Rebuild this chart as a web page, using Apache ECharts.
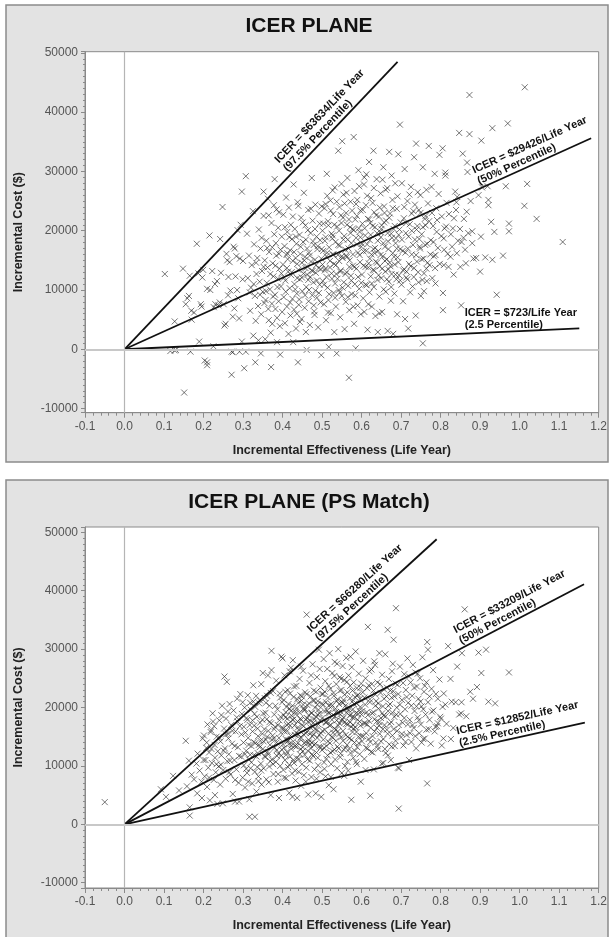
<!DOCTYPE html>
<html>
<head>
<meta charset="utf-8">
<title>ICER plane</title>
<script src="https://cdn.jsdelivr.net/npm/echarts@6/dist/echarts.min.js"></script>
<style>
  html, body { margin: 0; padding: 0; background: #fff; }
  #chart { width: 610px; height: 937px; }
</style>
</head>
<body>
<div id="chart"></div>
<script>
// ---- data ----
var xRange = [-0.1, 1.2];
var yTitle = 'Incremental Cost ($)';
var xTitle = 'Incremental Effectiveness (Life Year)';
var panelTitles = ['ICER PLANE', 'ICER PLANE (PS Match)'];

// bootstrap replicates, all patients  [effectiveness, cost]
var allPoints = [
  [0.102,12700],[0.151,-7300],[0.183,17800],[0.148,13600],[0.165,12400],[0.163,9000],[0.169,6500],[0.127,4700],
  [0.155,7600],[0.193,7600],[0.195,7200],[0.116,-300],[0.127,-200],[0.167,-400],[0.189,1300],[0.13,-100],
  [0.17,5000],[0.159,8600],[0.176,6200],[0.187,12800],[0.197,12100],[0.199,13400],
  [0.203,-1900],[0.209,-2700],[0.209,10200],[0.217,10000],[0.229,11000],[0.23,7600],[0.234,11500],[0.215,19200],
  [0.242,18600],[0.248,24000],[0.222,13200],[0.238,7400],[0.241,7900],[0.253,4000],[0.256,4300],[0.258,16100],
  [0.26,15000],[0.262,9100],[0.266,14700],[0.271,-4300],[0.271,-400],[0.274,5500],[0.276,17300],[0.279,17000],
  [0.281,12300],[0.285,10000],[0.288,8600],[0.29,5200],[0.292,15300],[0.294,21000],[0.297,26600],[0.297,1300],
  [0.299,11800],[0.286,20100],[0.268,9900],[0.251,7600],[0.244,12900],[0.226,7100],[0.263,12200],[0.278,6900],
  [0.283,15700],[0.274,-500],[0.209,-2200],[0.225,500],[0.291,-400],[0.3,14900],
  [0.307,29200],[0.303,-3200],[0.307,-400],[0.31,19500],[0.312,12000],[0.315,15800],[0.318,6500],[0.32,10400],
  [0.322,14200],[0.325,23300],[0.326,2300],[0.328,17700],[0.33,9000],[0.331,-2200],[0.332,4800],[0.334,12700],
  [0.336,15400],[0.338,7300],[0.34,20200],[0.342,11400],[0.344,17000],[0.346,5900],[0.348,13200],[0.35,9700],
  [0.352,26600],[0.352,22500],[0.355,15000],[0.356,1700],[0.357,8300],[0.359,18300],[0.36,11200],[0.362,13800],
  [0.364,6800],[0.366,16400],[0.368,10100],[0.37,2800],[0.371,-3000],[0.372,21300],[0.373,7700],[0.375,14500],
  [0.377,12300],[0.378,24300],[0.38,28700],[0.381,9200],[0.383,17900],[0.384,15800],[0.386,5300],[0.388,11900],
  [0.389,20500],[0.39,8100],[0.392,13600],[0.393,3900],[0.394,-900],[0.395,16800],[0.396,10600],[0.398,19000],
  [0.399,6300],[0.374,4300],[0.339,1500],[0.363,25400],[0.317,9600],[0.345,-700],[0.386,1200],[0.354,7800],
  [0.352,13900],[0.358,9800],[0.361,17100],[0.365,22600],[0.369,12700],[0.376,8900],[0.379,19400],[0.382,14100],
  [0.385,23600],[0.387,10500],[0.391,16100],[0.397,12800],[0.343,9200],[0.347,18800],[0.333,14600],[0.327,11000],
  [0.365,4900],[0.382,6800],[0.391,23100],[0.374,17200],
  [0.401,14300],[0.402,22700],[0.403,8800],[0.405,17400],[0.406,4400],[0.407,11600],[0.409,25600],[0.41,15900],
  [0.411,7200],[0.412,19800],[0.414,13100],[0.415,2600],[0.416,23900],[0.418,10300],[0.419,16700],[0.42,5700],
  [0.421,21000],[0.422,12500],[0.424,18600],[0.425,8500],[0.426,14900],[0.428,27800],[0.429,6700],[0.43,11000],
  [0.431,20300],[0.433,15400],[0.434,3500],[0.435,17800],[0.436,9400],[0.438,24800],[0.439,-2200],[0.44,13400],
  [0.441,7500],[0.443,19300],[0.444,11800],[0.445,16100],[0.447,22200],[0.448,5100],[0.449,14600],[0.45,9800],
  [0.452,18100],[0.453,12800],[0.454,26400],[0.456,7000],[0.457,15600],[0.458,20900],[0.46,10500],[0.461,-100],
  [0.462,17000],[0.463,13900],[0.465,23500],[0.466,8100],[0.467,16300],[0.469,4100],[0.47,12200],[0.471,19600],
  [0.472,14800],[0.474,28900],[0.475,9100],[0.476,21700],[0.478,11300],[0.479,17600],[0.48,6400],[0.482,15100],
  [0.483,24400],[0.484,12900],[0.486,19000],[0.487,8700],[0.488,16900],[0.49,3700],[0.491,13700],[0.492,22900],
  [0.494,10900],[0.495,18400],[0.496,7900],[0.498,-1000],[0.498,15300],[0.499,24100],[0.444,4600],[0.427,1200],
  [0.459,2900],[0.481,5800],[0.465,11700],[0.412,16200],[0.437,12000],[0.476,13200],
  [0.404,12100],[0.406,20600],[0.408,9700],[0.413,15200],[0.417,18900],[0.419,7900],[0.423,13000],[0.426,22400],
  [0.429,16400],[0.432,10100],[0.434,19000],[0.437,14400],[0.44,24200],[0.442,8400],[0.446,17300],[0.449,12100],
  [0.451,21400],[0.455,15000],[0.457,9100],[0.459,18500],[0.462,12600],[0.464,20100],[0.467,10000],[0.469,15800],
  [0.472,23700],[0.474,13300],[0.477,18200],[0.479,7400],[0.482,20300],[0.485,14200],[0.487,11600],[0.489,17400],
  [0.492,9500],[0.494,21200],[0.497,13500],[0.499,16900],[0.411,13700],[0.436,6000],[0.458,13700],[0.483,9900],
  [0.501,20000],[0.502,11500],[0.503,16600],[0.505,7600],[0.506,23800],[0.507,13300],[0.509,18900],[0.51,4900],
  [0.511,15700],[0.512,29600],[0.514,10400],[0.515,21600],[0.516,8300],[0.517,400],[0.518,17200],[0.52,13800],
  [0.521,25100],[0.522,6100],[0.524,19500],[0.525,11900],[0.526,16000],[0.528,22800],[0.529,9500],[0.53,14400],
  [0.531,2900],[0.532,27300],[0.534,18100],[0.535,7200],[0.536,12700],[0.537,-700],[0.538,20700],[0.54,15900],
  [0.541,33500],[0.542,10000],[0.544,24000],[0.545,17500],[0.546,5400],[0.547,13300],[0.549,21300],[0.55,9000],
  [0.551,35100],[0.552,15400],[0.554,26100],[0.555,11300],[0.556,19100],[0.557,3400],[0.559,16800],[0.56,8000],
  [0.561,23000],[0.562,13000],[0.564,28900],[0.565,18500],[0.566,10700],[0.568,-4800],[0.568,21900],[0.569,6600],
  [0.57,15000],[0.572,24900],[0.573,12400],[0.574,17900],[0.575,9300],[0.577,20300],[0.578,14100],[0.58,35800],
  [0.581,4300],[0.582,26700],[0.583,11000],[0.585,160],[0.586,18800],[0.587,13600],[0.588,22500],[0.59,7400],
  [0.591,16300],[0.592,30200],[0.594,10200],[0.595,19800],[0.596,14700],[0.597,23400],[0.598,5900],[0.599,17300],
  [0.553,22200],[0.527,19200],[0.543,14900],[0.571,20600],[0.589,25200],[0.513,25900],[0.533,11100],[0.563,15600],
  [0.501,14300],[0.503,21200],[0.505,10900],[0.507,18300],[0.509,24500],[0.511,12200],[0.513,16300],[0.516,20900],
  [0.518,9300],[0.52,14900],[0.522,23400],[0.524,12800],[0.526,18700],[0.529,16000],[0.531,21000],[0.533,8700],
  [0.535,14200],[0.537,24900],[0.539,11900],[0.541,17600],[0.543,20000],[0.546,13100],[0.548,22600],[0.55,15700],
  [0.552,10400],[0.554,18500],[0.557,24600],[0.559,12700],[0.561,15800],[0.563,21000],[0.565,8800],[0.567,17000],
  [0.569,13900],[0.572,19600],[0.574,11600],[0.576,23400],[0.578,16000],[0.58,20100],[0.582,13900],[0.584,9100],
  [0.586,24500],[0.588,17700],[0.591,12200],[0.593,20400],[0.595,15900],[0.597,18900],[0.599,11200],[0.508,13600],
  [0.527,26800],[0.545,9600],[0.562,26400],[0.579,7200],[0.594,27500],[0.515,6200],[0.549,27900],[0.584,21900],
  [0.601,12600],[0.602,21200],[0.604,8600],[0.605,16500],[0.606,27800],[0.607,6300],[0.609,19200],[0.61,13900],
  [0.611,24300],[0.613,10800],[0.614,17700],[0.615,3300],[0.616,22000],[0.618,14500],[0.619,31600],[0.62,9600],
  [0.621,18400],[0.623,12300],[0.624,25500],[0.625,16000],[0.626,7200],[0.628,20800],[0.629,13400],[0.63,33500],
  [0.631,10500],[0.632,23100],[0.634,17100],[0.635,5600],[0.636,14800],[0.638,28700],[0.639,19600],[0.64,11700],
  [0.641,2900],[0.642,16600],[0.644,22400],[0.645,8900],[0.646,14000],[0.648,26300],[0.649,18900],[0.65,12000],
  [0.651,20900],[0.652,6300],[0.654,15700],[0.655,30700],[0.656,10100],[0.657,24100],[0.659,17300],[0.66,13100],
  [0.661,9700],[0.662,21700],[0.664,15200],[0.665,27200],[0.666,3100],[0.667,18200],[0.669,11400],[0.67,33300],
  [0.671,14600],[0.672,22900],[0.674,8200],[0.675,19500],[0.676,12700],[0.678,25200],[0.679,16200],[0.68,2600],
  [0.681,20300],[0.683,9400],[0.684,14300],[0.685,28000],[0.686,17900],[0.688,11800],[0.689,23700],[0.69,5900],
  [0.691,15500],[0.693,32900],[0.694,19300],[0.695,12500],[0.697,37900],[0.698,16900],[0.699,21400],[0.612,29500],
  [0.633,16200],[0.647,19800],[0.668,13500],[0.687,18700],[0.622,21300],[0.658,23000],
  [0.601,17800],[0.603,23500],[0.605,14100],[0.608,20400],[0.61,10900],[0.612,16600],[0.614,25900],[0.617,13800],
  [0.619,21900],[0.621,15300],[0.623,19300],[0.626,11100],[0.628,24700],[0.63,16900],[0.632,13300],[0.634,20600],
  [0.637,22600],[0.639,14600],[0.641,18300],[0.643,12500],[0.646,23900],[0.648,15900],[0.65,20300],[0.652,13600],
  [0.655,17900],[0.657,21400],[0.659,14900],[0.661,26900],[0.664,11800],[0.666,19600],[0.668,16900],[0.67,22200],
  [0.673,14000],[0.675,10500],[0.677,18800],[0.679,23800],[0.682,15600],[0.684,20800],[0.686,12600],[0.689,17000],
  [0.691,25800],[0.693,14700],[0.696,20200],[0.698,11600],[0.607,29000],[0.631,27200],[0.653,28600],[0.676,29300],
  [0.617,7600],[0.645,6100],
  [0.701,10900],[0.702,28000],[0.704,16600],[0.705,8100],[0.707,22100],[0.708,13500],[0.709,30400],[0.71,5100],
  [0.712,19600],[0.713,12100],[0.714,13100],[0.716,25000],[0.717,17000],[0.718,3500],[0.72,14400],[0.722,21100],
  [0.723,9600],[0.725,27400],[0.727,16000],[0.729,10600],[0.731,23300],[0.733,32400],[0.733,13700],[0.735,18500],
  [0.737,5700],[0.738,34700],[0.739,20200],[0.74,14800],[0.742,26500],[0.744,11300],[0.745,23500],[0.747,17300],
  [0.749,26000],[0.75,9000],[0.752,19400],[0.754,11700],[0.755,1000],[0.755,30700],[0.757,15300],[0.758,9800],
  [0.76,22000],[0.762,20900],[0.762,22500],[0.764,13600],[0.766,17800],[0.768,24600],[0.77,34300],[0.772,14200],
  [0.775,18400],[0.777,27400],[0.779,12000],[0.781,20800],[0.783,15700],[0.785,29600],[0.787,11100],[0.787,15900],
  [0.789,23800],[0.791,21800],[0.793,17100],[0.795,26200],[0.797,32800],[0.798,14400],[0.727,20000],[0.748,17000],
  [0.765,11500],
  [0.702,18500],[0.705,13300],[0.708,24000],[0.711,16300],[0.713,21300],[0.716,11800],[0.719,19000],[0.721,26100],
  [0.724,14000],[0.727,22900],[0.73,17600],[0.732,12200],[0.735,24400],[0.738,15900],[0.741,20800],[0.743,13000],
  [0.746,18600],[0.749,23000],[0.752,15200],[0.755,20600],[0.758,12800],[0.761,17600],[0.764,26900],[0.767,14600],
  [0.771,21600],[0.774,16000],[0.778,23000],[0.782,18100],[0.786,13700],[0.79,19800],
  [0.802,19100],[0.805,33900],[0.806,9500],[0.806,6600],[0.808,18700],[0.808,14200],[0.81,20400],[0.812,29300],
  [0.812,29800],[0.815,24700],[0.818,16100],[0.821,22800],[0.825,15600],[0.829,17300],[0.831,20400],[0.833,12600],
  [0.837,26600],[0.839,23500],[0.84,24800],[0.842,25700],[0.844,18300],[0.847,36500],[0.85,13900],[0.852,7400],
  [0.853,18100],[0.856,33000],[0.859,22000],[0.862,16800],[0.866,23200],[0.867,31500],[0.868,29900],[0.87,19600],
  [0.873,42900],[0.873,36300],[0.876,25000],[0.88,19900],[0.88,17900],[0.883,15300],[0.89,15400],[0.896,26000],
  [0.9,13100],[0.803,22400],[0.809,16800],[0.814,20700],[0.82,13900],[0.826,19400],[0.834,22100],[0.841,16200],
  [0.849,20300],[0.858,18800],[0.864,14500],
  [0.902,19000],[0.903,35200],[0.905,27300],[0.913,15500],[0.919,27500],[0.921,24300],[0.921,25200],[0.928,21500],
  [0.931,37300],[0.931,15100],[0.942,9200],[0.965,27500],[0.97,38100],[0.973,21200],[0.973,19900],[1.012,24200],
  [1.013,44200],[1.019,27900],[1.043,22000],[1.109,18100],[0.958,15800],[0.936,19800]
];

// bootstrap replicates, propensity score matched sample
var psPoints = [
  [-0.05,3800],[0.092,6000],[0.105,4700],[0.123,8300],[0.138,5800],[0.155,14300],[0.163,10900],[0.165,2900],
  [0.165,1500],[0.184,5300],[0.196,4500],[0.198,14700],[0.19,9200],[0.176,7700],[0.2,11000],[0.185,12100],
  [0.17,8500],[0.158,6500],[0.195,7300],[0.182,10400],
  [0.201,15200],[0.203,8200],[0.205,11000],[0.207,13100],[0.209,6400],[0.21,17100],[0.212,9700],[0.214,12300],
  [0.216,4100],[0.218,15800],[0.219,16100],[0.221,10500],[0.223,19000],[0.224,17600],[0.226,7600],[0.228,13600],
  [0.229,11400],[0.231,8900],[0.233,15000],[0.235,3500],[0.236,12500],[0.238,9900],[0.24,17800],[0.242,6800],
  [0.243,14200],[0.245,11800],[0.247,20300],[0.249,3600],[0.25,9300],[0.252,16400],[0.253,25300],[0.254,13000],
  [0.256,7800],[0.257,18100],[0.259,24400],[0.26,10800],[0.262,15500],[0.264,12000],[0.266,20600],[0.268,8500],
  [0.27,17000],[0.272,13800],[0.274,5200],[0.276,19500],[0.278,11000],[0.28,3900],[0.281,15900],[0.283,9400],
  [0.285,21500],[0.287,13200],[0.289,7100],[0.29,3900],[0.292,16800],[0.293,22300],[0.295,11600],[0.297,18900],
  [0.299,8000],[0.244,10200],[0.263,14700],[0.286,17600],
  [0.208,14000],[0.214,8000],[0.22,12900],[0.227,16800],[0.233,10300],[0.239,14900],[0.245,18700],[0.251,12600],
  [0.257,15400],[0.262,19300],[0.267,10900],[0.273,16000],[0.279,13400],[0.284,18300],[0.29,11700],[0.296,15400],
  [0.299,20900],[0.265,8900],[0.28,7600],[0.229,5000],
  [0.301,14000],[0.302,10100],[0.304,20000],[0.305,6300],[0.306,15700],[0.308,12600],[0.309,18200],[0.31,8800],
  [0.312,22100],[0.313,14800],[0.315,11100],[0.316,4300],[0.317,17000],[0.319,9600],[0.32,19600],[0.321,13400],
  [0.323,7000],[0.324,15900],[0.316,1300],[0.33,1300],[0.326,21000],[0.327,11800],[0.328,16900],[0.33,9000],
  [0.331,13900],[0.333,22000],[0.334,5600],[0.335,18400],[0.337,12200],[0.338,15100],[0.339,8200],[0.341,20700],
  [0.342,13200],[0.343,17400],[0.345,10400],[0.346,24000],[0.347,6800],[0.349,15500],[0.35,12900],[0.351,19000],
  [0.352,9600],[0.354,16300],[0.355,21600],[0.356,11500],[0.358,14500],[0.359,7700],[0.36,18000],[0.362,12400],
  [0.363,25500],[0.364,16000],[0.366,9900],[0.367,20300],[0.368,13600],[0.37,5000],[0.371,17300],[0.372,29700],
  [0.373,11100],[0.375,15200],[0.376,22800],[0.377,8600],[0.379,18800],[0.38,13100],[0.381,16700],[0.383,10700],
  [0.384,24600],[0.385,14000],[0.387,19700],[0.388,7300],[0.389,12100],[0.391,4500],[0.392,17800],[0.393,22400],
  [0.394,10000],[0.396,15700],[0.397,28700],[0.398,12800],[0.399,20900],[0.4,28400],[0.318,11900],[0.329,18900],
  [0.344,14300],[0.357,19100],[0.369,10800],[0.378,14700],[0.386,11700],[0.395,18400],[0.336,9800],[0.361,22000],
  [0.302,16700],[0.305,12000],[0.308,9500],[0.311,17900],[0.314,13600],[0.318,20800],[0.321,10600],[0.324,17800],
  [0.327,14100],[0.331,20100],[0.334,11600],[0.337,16400],[0.34,13600],[0.343,21200],[0.346,9200],[0.349,17900],
  [0.352,14200],[0.355,11700],[0.358,20800],[0.361,15000],[0.364,12000],[0.367,17500],[0.37,22500],[0.373,14500],
  [0.376,10300],[0.379,16300],[0.382,20300],[0.385,12700],[0.388,17000],[0.391,14800],[0.394,21700],[0.397,11800],
  [0.399,16600],[0.313,7300],[0.339,7400],[0.365,7200],[0.389,8600],[0.326,23800],[0.35,25900],[0.372,26400],
  [0.401,16400],[0.402,9300],[0.403,21300],[0.404,13100],[0.405,25500],[0.406,11000],[0.407,18300],[0.408,14600],
  [0.409,7900],[0.41,20100],[0.411,12400],[0.412,16000],[0.413,23000],[0.414,9800],[0.415,17200],[0.416,13700],
  [0.417,5400],[0.418,19800],[0.419,11600],[0.42,15200],[0.421,26800],[0.422,12900],[0.423,18600],[0.424,8700],
  [0.425,4700],[0.426,28100],[0.427,14200],[0.428,21800],[0.429,10500],[0.43,16900],[0.431,13400],[0.432,19300],
  [0.433,7500],[0.434,15700],[0.435,23700],[0.436,11300],[0.437,4500],[0.438,17600],[0.439,13900],[0.44,20800],
  [0.441,9000],[0.442,16100],[0.443,24900],[0.444,12000],[0.445,18100],[0.446,14900],[0.447,6600],[0.448,21200],
  [0.449,10300],[0.45,17000],[0.451,13200],[0.452,26300],[0.453,15400],[0.454,8400],[0.455,19500],[0.456,11900],
  [0.457,22600],[0.458,14100],[0.459,17900],[0.46,9700],[0.461,35900],[0.462,15800],[0.463,20400],[0.464,12600],
  [0.465,5100],[0.466,18700],[0.467,14400],[0.468,24200],[0.469,10900],[0.47,16600],[0.471,21900],[0.472,13000],
  [0.473,8100],[0.474,19100],[0.475,15100],[0.476,27400],[0.477,11700],[0.478,17400],[0.479,22900],[0.48,13600],
  [0.481,9400],[0.482,20000],[0.483,16300],[0.484,5300],[0.485,18400],[0.486,12300],[0.487,25200],[0.488,14800],
  [0.489,21100],[0.49,10100],[0.491,17100],[0.492,29900],[0.493,13300],[0.494,19000],[0.495,8900],[0.496,23400],
  [0.497,15600],[0.498,4700],[0.499,20600],[0.5,12700],[0.408,19200],[0.419,22400],[0.427,17900],[0.436,19900],
  [0.445,22100],[0.453,19800],[0.462,18200],[0.471,17700],[0.48,21200],[0.488,18800],[0.415,14400],[0.446,12900],
  [0.474,14000],
  [0.401,13700],[0.403,18700],[0.405,15900],[0.407,22700],[0.409,11900],[0.411,17000],[0.413,14200],[0.415,20600],
  [0.417,10200],[0.419,16900],[0.421,19400],[0.423,13500],[0.425,17900],[0.427,11000],[0.429,23600],[0.431,15300],
  [0.433,18900],[0.435,13300],[0.437,21400],[0.439,16600],[0.441,11200],[0.443,19100],[0.445,14600],[0.447,17900],
  [0.449,21900],[0.451,12500],[0.453,16800],[0.455,13900],[0.457,19700],[0.459,15600],[0.461,22300],[0.463,11100],
  [0.465,17600],[0.467,20700],[0.469,13600],[0.471,15600],[0.473,19000],[0.475,12000],[0.477,21200],[0.479,15400],
  [0.481,18000],[0.483,13800],[0.485,22700],[0.487,16200],[0.489,11400],[0.491,19600],[0.493,15300],[0.495,17800],
  [0.497,13200],[0.499,22300],[0.404,8000],[0.418,26200],[0.432,9200],[0.447,27000],[0.459,7300],[0.472,25500],
  [0.486,7800],[0.494,26600],[0.425,20300],[0.452,20500],[0.476,16700],[0.44,15400],[0.466,14000],[0.412,18100],
  [0.488,20500],
  [0.501,18200],[0.502,22300],[0.503,14500],[0.504,28300],[0.505,10600],[0.506,19400],[0.507,16200],[0.508,24500],
  [0.509,8200],[0.51,20900],[0.511,13400],[0.512,17600],[0.513,26600],[0.514,11800],[0.515,21700],[0.516,15500],
  [0.517,6700],[0.518,19000],[0.519,29300],[0.52,13900],[0.521,23200],[0.522,17000],[0.523,10300],[0.524,20200],
  [0.525,15000],[0.526,25900],[0.527,12500],[0.528,18700],[0.529,6000],[0.53,22000],[0.531,16400],[0.532,27800],
  [0.533,11100],[0.534,19800],[0.535,14300],[0.536,24000],[0.537,17800],[0.538,9600],[0.539,21400],[0.54,15900],
  [0.541,30000],[0.542,13000],[0.543,20600],[0.544,17300],[0.545,25200],[0.546,11500],[0.547,19300],[0.548,14900],
  [0.549,23000],[0.55,8800],[0.551,18000],[0.552,27100],[0.553,16000],[0.554,21300],[0.555,12800],[0.556,24700],
  [0.557,17500],[0.558,10000],[0.559,20300],[0.56,15300],[0.561,28500],[0.562,19100],[0.563,13600],[0.564,22600],
  [0.565,17100],[0.566,9200],[0.567,25500],[0.568,20000],[0.569,14700],[0.57,18600],[0.571,23700],[0.572,12200],
  [0.573,16700],[0.574,4200],[0.575,26900],[0.576,21000],[0.577,15800],[0.578,19700],[0.579,11400],[0.58,24300],
  [0.581,18300],[0.582,14000],[0.583,21800],[0.584,16600],[0.585,29600],[0.586,10700],[0.587,20700],[0.588,23300],
  [0.589,13200],[0.59,17900],[0.591,22200],[0.592,15000],[0.593,25800],[0.594,19500],[0.595,12000],[0.596,21500],
  [0.597,16900],[0.598,7300],[0.599,24100],[0.6,18800],[0.51,17400],[0.528,15700],[0.546,18800],[0.563,19800],
  [0.58,16400],[0.597,20100],[0.517,20300],[0.535,19200],[0.553,20800],[0.571,17500],
  [0.501,16000],[0.503,20500],[0.505,13100],[0.507,22700],[0.509,17500],[0.511,11200],[0.513,19500],[0.515,14200],
  [0.517,23700],[0.519,16900],[0.521,12300],[0.523,20600],[0.525,17900],[0.527,14800],[0.529,22500],[0.531,12800],
  [0.533,18500],[0.535,16200],[0.537,21100],[0.539,13300],[0.541,19100],[0.543,15400],[0.545,22900],[0.547,12100],
  [0.549,17700],[0.551,20900],[0.553,14300],[0.555,18300],[0.557,22200],[0.559,13100],[0.561,17200],[0.563,24400],
  [0.565,15000],[0.567,19600],[0.569,12900],[0.571,21600],[0.573,18800],[0.575,14500],[0.577,22900],[0.579,17000],
  [0.581,20600],[0.583,12600],[0.585,19000],[0.587,15800],[0.589,22000],[0.591,18900],[0.593,13900],[0.595,17600],
  [0.597,23400],[0.599,15100],[0.506,9500],[0.522,8100],[0.538,27500],[0.556,8300],[0.572,28700],[0.588,10300],
  [0.531,25400],[0.564,10700],[0.548,24900],[0.516,19100],[0.577,18300],[0.541,16900],
  [0.601,14200],[0.603,22600],[0.604,28000],[0.606,17300],[0.607,11200],[0.609,20500],[0.61,25000],[0.612,15600],
  [0.613,19200],[0.615,13000],[0.616,33800],[0.618,23800],[0.619,17700],[0.621,21400],[0.622,4900],[0.624,12400],
  [0.625,26500],[0.627,19000],[0.628,15100],[0.63,22900],[0.631,9400],[0.633,18000],[0.634,27300],[0.636,14000],
  [0.637,21100],[0.639,16500],[0.64,24300],[0.642,12900],[0.643,19800],[0.645,29300],[0.646,15500],[0.648,22500],
  [0.649,18200],[0.651,10400],[0.652,25600],[0.654,20200],[0.655,14600],[0.657,23100],[0.658,17000],[0.66,29100],
  [0.661,12200],[0.663,21900],[0.664,16200],[0.666,33300],[0.667,19400],[0.669,24900],[0.67,13700],[0.672,20600],
  [0.674,11000],[0.675,17500],[0.677,26200],[0.678,15200],[0.68,22800],[0.681,31600],[0.683,18400],[0.684,13400],
  [0.686,24100],[0.687,37000],[0.689,20000],[0.69,16000],[0.692,9700],[0.693,22300],[0.694,2700],[0.695,9600],
  [0.697,27000],[0.698,18900],[0.7,14900],[0.614,17100],[0.635,20300],[0.656,18600],[0.676,21700],[0.622,14100],
  [0.644,16900],
  [0.602,19400],[0.604,15100],[0.607,21700],[0.609,17300],[0.611,13100],[0.614,23300],[0.616,18700],[0.618,14600],
  [0.621,20900],[0.623,16500],[0.626,24000],[0.628,12300],[0.63,19200],[0.633,15900],[0.635,22200],[0.638,17600],
  [0.64,13400],[0.642,20700],[0.645,17500],[0.647,24000],[0.649,14200],[0.652,19000],[0.654,16300],[0.657,21500],
  [0.659,12900],[0.661,18500],[0.664,23400],[0.666,15500],[0.668,20300],[0.671,17200],[0.673,22900],[0.676,13300],
  [0.678,19100],[0.681,16300],[0.683,21900],[0.686,14300],[0.688,18800],[0.691,23900],[0.694,17000],[0.697,20500],
  [0.61,9300],[0.632,27900],[0.655,10500],[0.679,27500],[0.62,26200],[0.667,11800],
  [0.702,21300],[0.704,17400],[0.706,13500],[0.708,25700],[0.71,19700],[0.712,23000],[0.714,15300],[0.716,28400],
  [0.718,20800],[0.72,11000],[0.722,17900],[0.724,24300],[0.726,14100],[0.728,22000],[0.73,27300],[0.732,16500],
  [0.734,19400],[0.736,26000],[0.738,13000],[0.74,23600],[0.742,18300],[0.744,21500],[0.746,15600],[0.748,25000],
  [0.75,17100],[0.752,20200],[0.754,28600],[0.756,14600],[0.758,22700],[0.76,14700],[0.762,18800],[0.764,24300],
  [0.766,7000],[0.766,31200],[0.768,29900],[0.77,16300],[0.772,21900],[0.775,13800],[0.778,19300],[0.781,26400],
  [0.785,15900],[0.788,22300],[0.791,16800],[0.793,17300],[0.797,24800],[0.801,18100],[0.807,14700],[0.808,22400],
  [0.803,13500],
  [0.702,15500],[0.705,24200],[0.708,18200],[0.711,14100],[0.714,21800],[0.717,17100],[0.72,25300],[0.723,15600],
  [0.726,20300],[0.729,17000],[0.733,23400],[0.736,15100],[0.739,20200],[0.742,25800],[0.745,17800],[0.749,21000],
  [0.752,14000],[0.756,19700],[0.76,23700],[0.764,16200],[0.768,20900],[0.772,17900],[0.777,23200],[0.782,19500],
  [0.787,16700],[0.793,21500],[0.799,18400],[0.805,20100],[0.815,17200],[0.828,21000],
  [0.812,20500],[0.819,30500],[0.825,24900],[0.832,16500],[0.838,20900],[0.847,18800],[0.852,19000],[0.853,20900],
  [0.854,29300],[0.861,36800],[0.865,18500],[0.875,22700],[0.882,21500],[0.892,23500],[0.896,29400],[0.903,25900],
  [0.915,29900],[0.921,21000],[0.938,20700],[0.973,26000],[0.842,27000],[0.826,14600]
];

// ICER lines drawn from the origin: end points [effectiveness, cost]
var allIcerEnds = [[0.691, 48500], [1.181, 35600], [1.151, 3540]];
var psIcerEnds = [[0.790, 48800], [1.163, 41100], [1.165, 17400]];
var allIcerText = ['ICER = $63634/Life Year\n(97.5% Percentile)',
                   'ICER = $29426/Life Year\n(50% Percentile)',
                   'ICER = $723/Life Year\n(2.5 Percentile)'];
var psIcerText = ['ICER = $66280/Life Year\n(97.5% Percentile)',
                  'ICER = $33209/Life Year\n(50% Percentile)',
                  'ICER = $12852/Life Year\n(2.5% Percentile)'];

// ---- layout ----
var font = '"Liberation Sans", Arial, sans-serif';
var axisGray = '#8a8a8a';
// label anchor: x value along the line where the text starts, gap above line
var allLabelPos = [{ at: 0.42, gap: 1 }, { at: 0.902, gap: 1 }, { at: 0.861, gap: 3, flat: true }];
var psLabelPos = [{ at: 0.499, gap: 1 }, { at: 0.857, gap: 1 }, { at: 0.851, gap: 1 }];
var panels = [
  { top: 51.7, bottom: 524.3, yMin: -10700, yMax: 50200, box: [6, 5, 602, 457], titleY: 26 },
  { top: 527, bottom: 49, yMin: -10900, yMax: 50900, box: [6, 480, 602, 470], titleY: 502 }
];

var chart = echarts.init(document.getElementById('chart'));

function xAxisFor(i) {
  return {
    gridIndex: i, type: 'value', min: xRange[0], max: xRange[1], interval: 0.1,
    name: xTitle, nameLocation: 'middle', nameGap: 31,
    nameTextStyle: { fontFamily: font, fontSize: 12.5, fontWeight: 'bold', color: '#222' },
    axisLine: { show: true, onZero: false, lineStyle: { color: axisGray } },
    axisTick: { show: true, length: 5, lineStyle: { color: axisGray } },
    minorTick: { show: true, splitNumber: 5, length: 3, lineStyle: { color: axisGray } },
    axisLabel: { margin: 8, color: '#555', fontFamily: font, fontSize: 12,
      formatter: function (v) { return v.toFixed(1); } },
    splitLine: { show: false }
  };
}

function yAxisFor(i) {
  var p = panels[i];
  return {
    gridIndex: i, type: 'value', min: p.yMin, max: p.yMax, splitNumber: 6,
    name: yTitle, nameLocation: 'middle', nameGap: 60,
    nameTextStyle: { fontFamily: font, fontSize: 12.5, fontWeight: 'bold', color: '#222' },
    axisLine: { show: true, onZero: false, lineStyle: { color: axisGray } },
    axisTick: { show: true, length: 4, lineStyle: { color: axisGray } },
    minorTick: { show: true, splitNumber: 10, length: 2, lineStyle: { color: axisGray } },
    axisLabel: { margin: 7, color: '#555', fontFamily: font, fontSize: 12,
      showMinLabel: false, showMaxLabel: false,
      formatter: function (v) { return String(v); } },
    splitLine: { show: false }
  };
}

function cloud(i, pts) {
  return {
    type: 'scatter', xAxisIndex: i, yAxisIndex: i, data: pts,
    symbol: 'path://M0,0L10,10M10,0L0,10', symbolSize: 6,
    itemStyle: { color: 'transparent', borderColor: 'rgba(40,40,40,0.8)', borderWidth: 1 },
    markLine: {
      silent: true, symbol: ['none', 'none'], label: { show: false },
      data: [
        { xAxis: 0, lineStyle: { color: '#b5b5b5', width: 1.2, type: 'solid' } },
        { yAxis: 0, lineStyle: { color: '#c8c8c8', width: 2, type: 'solid' } }
      ]
    }
  };
}

function icerLines(i, ends) {
  return ends.map(function (e) {
    return {
      type: 'line', xAxisIndex: i, yAxisIndex: i, data: [[0, 0], e],
      symbol: 'none', silent: true,
      lineStyle: { color: '#111', width: 1.8 }
    };
  });
}

var graphics = [];
panels.forEach(function (p, i) {
  graphics.push({
    type: 'rect', z: -10, silent: true,
    shape: { x: p.box[0], y: p.box[1], width: p.box[2], height: p.box[3] },
    style: { fill: '#e3e3e3', stroke: '#8c8c8c', lineWidth: 1.5 }
  });
  graphics.push({
    type: 'text', z: 10, x: 309, y: p.titleY, silent: true,
    style: { text: panelTitles[i], font: 'bold 21px ' + font, fill: '#111',
      align: 'center', verticalAlign: 'middle', textAlign: 'center', textVerticalAlign: 'middle' }
  });
});

var option = {
  animation: false,
  grid: panels.map(function (p) {
    return { left: 85, right: 6, top: p.top, bottom: p.bottom, show: true,
      backgroundColor: '#fff', borderColor: axisGray, borderWidth: 1 };
  }),
  xAxis: [xAxisFor(0), xAxisFor(1)],
  yAxis: [yAxisFor(0), yAxisFor(1)],
  series: [cloud(0, allPoints), cloud(1, psPoints)]
    .concat(icerLines(0, allIcerEnds)).concat(icerLines(1, psIcerEnds)),
  graphic: graphics
};
chart.setOption(option);

// labels along the ICER lines, placed once the axes exist
function lineLabels(i, ends, texts, pos) {
  var o = chart.convertToPixel({ gridIndex: i }, [0, 0]);
  return ends.map(function (e, k) {
    var q = chart.convertToPixel({ gridIndex: i }, e);
    var ang = Math.atan2(o[1] - q[1], q[0] - o[0]);
    var at = pos[k].at;
    var a = chart.convertToPixel({ gridIndex: i }, [at, e[1] * at / e[0]]);
    var rot = pos[k].flat ? 0 : ang;
    var g = pos[k].gap;
    return {
      type: 'text', z: 10, silent: true,
      x: a[0] - Math.sin(rot) * g, y: a[1] - Math.cos(rot) * g, rotation: rot,
      style: { text: texts[k], font: 'bold 11px ' + font, fill: '#111', lineHeight: 12,
        align: 'left', verticalAlign: 'bottom', textAlign: 'left', textVerticalAlign: 'bottom' }
    };
  });
}

chart.setOption({
  graphic: graphics.concat(lineLabels(0, allIcerEnds, allIcerText, allLabelPos))
    .concat(lineLabels(1, psIcerEnds, psIcerText, psLabelPos))
});
</script>
</body>
</html>
